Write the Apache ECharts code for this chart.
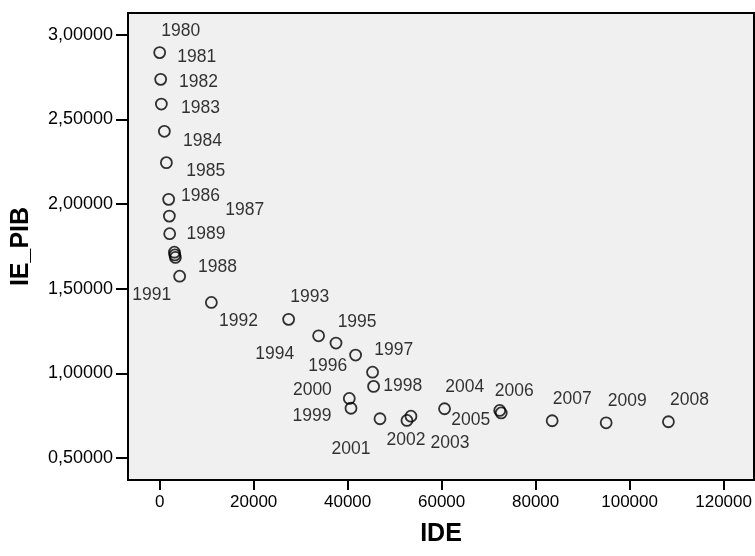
<!DOCTYPE html>
<html>
<head>
<meta charset="utf-8">
<script src="https://cdn.jsdelivr.net/npm/echarts@6/dist/echarts.min.js"></script>
<style>
  html, body { margin: 0; padding: 0; background: #ffffff; }
  #chart { width: 755px; height: 556px; }
</style>
</head>
<body>
<div id="chart"></div>
<script>
// ---- data ----
var years = [1980, 1981, 1982, 1983, 1984, 1985, 1986, 1987, 1988, 1989,
             1990, 1991, 1992, 1993, 1994, 1995, 1996, 1997, 1998, 1999,
             2000, 2001, 2002, 2003, 2004, 2005, 2006, 2007, 2008, 2009];
var ide = [0, 210, 360, 1000, 1430, 1910, 2060, 2130, 3130, 3230,
           3340, 4250, 11000, 27440, 33820, 37520, 41690, 45300, 45520, 40710,
           40350, 46880, 52620, 53470, 60620, 72360, 72680, 83520, 108260, 95010];
var iePib = [2.895, 2.737, 2.591, 2.430, 2.245, 2.028, 1.929, 1.825, 1.716, 1.700,
             1.685, 1.574, 1.419, 1.319, 1.222, 1.179, 1.108, 1.007, 0.923, 0.794,
             0.852, 0.732, 0.722, 0.747, 0.791, 0.781, 0.766, 0.720, 0.714, 0.708];
var xTicks = [0, 20000, 40000, 60000, 80000, 100000, 120000];
var yTicks = [0.5, 1.0, 1.5, 2.0, 2.5, 3.0];

// label placement (pixel offsets from each point, styling only)
var labelOffsets = [
  [22, -21], [37, -21], [38, -21], [37, -22], [37, -21], [38, -27], [32, -19], [76, -23], [44, 16], [32, -20],
  null, [-27, 20], [28, 20], [22, -21], [-43, 19], [22, -20], [-27, 12], [22, -21], [30, 1], [-38, 9],
  [-36, -7], [-28, 31], [0, 21], [40, 28], [21, -21], [-28, 11], [14, -21], [21, -21], [22, -21], [22, -21]
];

var FONT = '"Liberation Sans", Arial, sans-serif';
var SYM = 11;

var points = years.map(function (y, i) {
  var off = labelOffsets[i];
  return {
    value: [ide[i], iePib[i]],
    name: String(y),
    label: off ? {
      show: true,
      position: [SYM / 2 + off[0], SYM / 2 + off[1]],
      align: 'center',
      verticalAlign: 'middle'
    } : { show: false }
  };
});

var chart = echarts.init(document.getElementById('chart'), null, { renderer: 'canvas' });
chart.setOption({
  animation: false,
  backgroundColor: '#ffffff',
  grid: {
    left: 128, right: 1, top: 13, bottom: 76,
    show: true,
    backgroundColor: '#f0f0f0',
    borderColor: '#000000',
    borderWidth: 2
  },
  xAxis: {
    type: 'value',
    min: -6740,
    max: 126470,
    name: 'IDE',
    nameLocation: 'middle',
    nameGap: 42,
    nameTextStyle: { fontFamily: FONT, fontSize: 25, fontWeight: 'bold', color: '#000' },
    axisLine: { show: false, onZero: false },
    axisTick: { show: true, length: 10, inside: false, customValues: xTicks,
                lineStyle: { color: '#000', width: 2 } },
    axisLabel: { show: true, customValues: xTicks, margin: 14,
                 fontFamily: FONT, fontSize: 17, color: '#000',
                 formatter: function (v) { return String(v); } },
    splitLine: { show: false }
  },
  yAxis: {
    type: 'value',
    min: 0.370,
    max: 3.129,
    name: 'IE_PIB',
    nameLocation: 'middle',
    nameGap: 94,
    nameTextStyle: { fontFamily: FONT, fontSize: 25, fontWeight: 'bold', color: '#000' },
    axisLine: { show: false, onZero: false },
    axisTick: { show: true, length: 12, inside: false, customValues: yTicks,
                lineStyle: { color: '#000', width: 2 } },
    axisLabel: { show: true, customValues: yTicks, margin: 15,
                 fontFamily: FONT, fontSize: 18, color: '#000',
                 formatter: function (v) { return v.toFixed(5).replace('.', ','); } },
    splitLine: { show: false }
  },
  series: [{
    type: 'scatter',
    data: points,
    symbol: 'circle',
    symbolSize: SYM,
    itemStyle: { color: 'rgba(0,0,0,0)', borderColor: '#000', borderWidth: 1.8 },
    label: {
      show: true,
      fontFamily: FONT,
      fontSize: 17.5,
      color: '#000',
      formatter: function (p) { return p.name; }
    },
    labelLayout: { hideOverlap: false },
    emphasis: { disabled: true }
  }]
});
</script>
</body>
</html>
